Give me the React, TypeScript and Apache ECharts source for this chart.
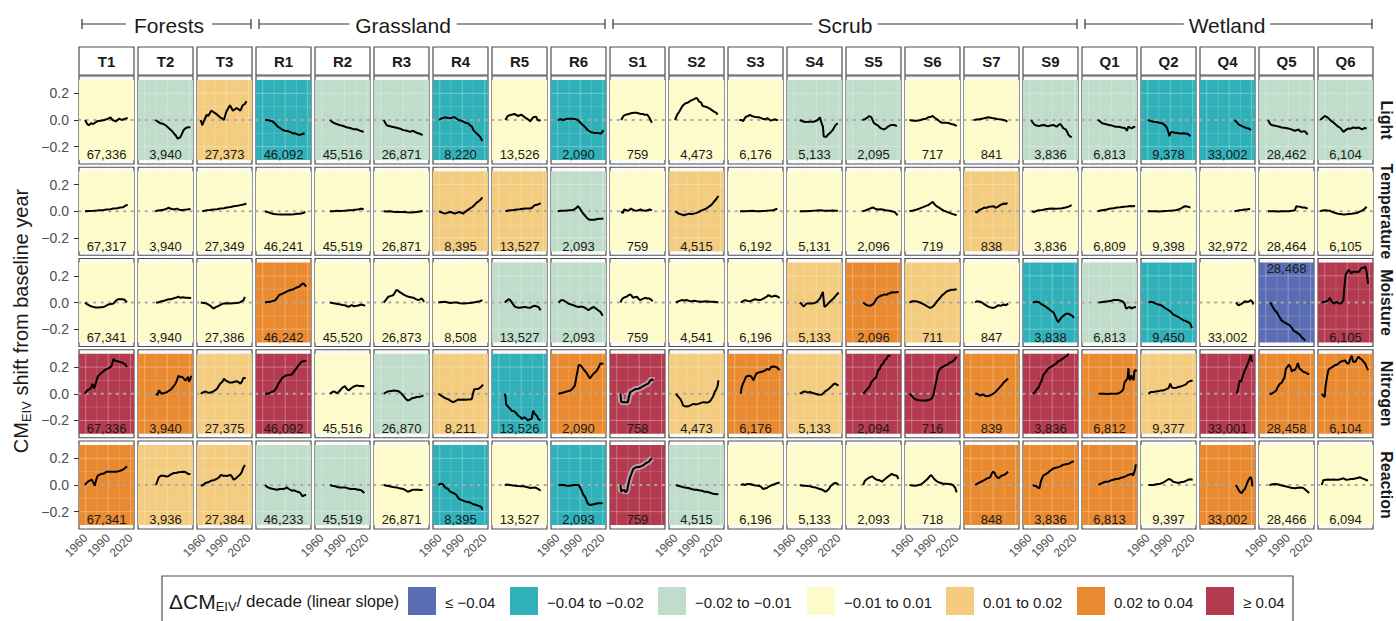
import React, { useEffect, useRef } from 'react';
import * as echarts from 'echarts';

// ---------------- DATA ----------------
const columns = ['T1','T2','T3','R1','R2','R3','R4','R5','R6','S1','S2','S3','S4','S5','S6','S7','S9','Q1','Q2','Q4','Q5','Q6'];
const groups = [
  { name: 'Forests', from: 0, to: 2, labelX: 169 },
  { name: 'Grassland', from: 3, to: 8, labelX: 403 },
  { name: 'Scrub', from: 9, to: 16, labelX: 845 },
  { name: 'Wetland', from: 17, to: 21, labelX: 1227 },
];
const rowNames = ['Light', 'Temperature', 'Moisture', 'Nitrogen', 'Reaction'];
const slopeLabels = ['≤ −0.04', '−0.04 to −0.02', '−0.02 to −0.01', '−0.01 to 0.01', '0.01 to 0.02', '0.02 to 0.04', '≥ 0.04'];
const slopeColors = ['#5a6cb3', '#30b1b9', '#bfddca', '#fdfbca', '#f3cc7f', '#e98a31', '#b43a4f'];
const xTicks = [1960, 1990, 2020];
const yTicks = [-0.2, 0, 0.2];

const lightClass = [3,2,4,1,2,2,1,3,1,3,3,3,2,2,3,3,2,2,1,1,2,2];
const temperatureClass = [3,3,3,3,3,3,4,4,2,3,4,3,3,3,3,4,3,3,3,3,3,3];
const moistureClass = [3,3,3,5,3,3,3,2,2,3,3,3,4,5,4,3,1,2,1,3,0,6];
const nitrogenClass = [6,5,4,6,3,2,4,1,5,6,4,5,4,6,6,5,6,5,4,6,5,5];
const reactionClass = [5,4,4,2,2,3,1,3,1,6,2,3,3,3,3,5,5,5,3,5,3,3];

const lightCounts = ['67,336','3,940','27,373','46,092','45,516','26,871','8,220','13,526','2,090','759','4,473','6,176','5,133','2,095','717','841','3,836','6,813','9,378','33,002','28,462','6,104'];
const temperatureCounts = ['67,317','3,940','27,349','46,241','45,519','26,871','8,395','13,527','2,093','759','4,515','6,192','5,131','2,096','719','838','3,836','6,809','9,398','32,972','28,464','6,105'];
const moistureCounts = ['67,341','3,940','27,386','46,242','45,520','26,873','8,508','13,527','2,093','759','4,541','6,196','5,133','2,096','711','847','3,838','6,813','9,450','33,002','28,468','6,105'];
const nitrogenCounts = ['67,336','3,940','27,375','46,092','45,516','26,870','8,211','13,526','2,090','758','4,473','6,176','5,133','2,094','716','839','3,836','6,812','9,377','33,001','28,458','6,104'];
const reactionCounts = ['67,341','3,936','27,384','46,233','45,519','26,871','8,395','13,527','2,093','759','4,515','6,196','5,133','2,093','718','848','3,836','6,813','9,397','33,002','28,466','6,094'];

const countsAtTop = [['Moisture', 'Q5']];
const ribbonPanels = [['Nitrogen', 'S1'], ['Reaction', 'S1']];

const light = [
  [[1959,0],[1962,-0.03],[1964,-0.04],[1967,-0.025],[1970,-0.03],[1975,-0.01],[1980,-0.005],[1985,0],[1990,0.01],[1993,0.02],[1996,0],[2000,-0.01],[2005,0.01],[2008,0],[2013,0.01],[2016,0.015]],
  [[1974,0],[1977,-0.01],[1981,-0.025],[1985,-0.03],[1988,-0.04],[1992,-0.06],[1996,-0.08],[1999,-0.1],[2002,-0.12],[2004,-0.14],[2006,-0.135],[2008,-0.125],[2010,-0.1],[2012,-0.075],[2015,-0.06],[2018,-0.055],[2021,-0.055]],
  [[1956,0],[1958,-0.04],[1960,-0.01],[1964,0.04],[1966,0.03],[1970,0.07],[1973,0.06],[1978,0.04],[1982,0.02],[1985,0.01],[1987,0],[1990,0.06],[1995,0.11],[1999,0.07],[2004,0.09],[2009,0.07],[2012,0.11],[2015,0.12],[2017,0.14]],
  [[1963,0],[1966,0],[1970,-0.005],[1973,-0.01],[1977,-0.03],[1980,-0.05],[1983,-0.06],[1987,-0.075],[1990,-0.08],[1994,-0.085],[1997,-0.09],[2000,-0.1],[2003,-0.1],[2007,-0.11],[2010,-0.11],[2013,-0.105],[2016,-0.1]],
  [[1971,0],[1973,-0.01],[1977,-0.025],[1980,-0.03],[1985,-0.04],[1989,-0.045],[1993,-0.055],[1998,-0.06],[2003,-0.07],[2007,-0.07],[2011,-0.08],[2014,-0.085],[2016,-0.09]],
  [[1964,0],[1966,-0.02],[1968,-0.04],[1971,-0.045],[1975,-0.05],[1981,-0.058],[1986,-0.065],[1990,-0.076],[1995,-0.08],[1999,-0.089],[2003,-0.081],[2006,-0.09],[2010,-0.1],[2013,-0.105],[2016,-0.114]],
  [[1959,0],[1962,0.01],[1967,0.02],[1971,0.015],[1974,0.013],[1978,0.02],[1980,0.02],[1985,0],[1989,-0.005],[1994,-0.02],[1998,-0.025],[2000,-0.038],[2003,-0.05],[2005,-0.076],[2009,-0.1],[2012,-0.115],[2014,-0.127],[2017,-0.157]],
  [[1969,0],[1972,0.03],[1977,0.04],[1981,0.045],[1986,0.03],[1990,0.04],[1995,0.02],[1999,0.005],[2002,-0.01],[2004,0.005],[2006,0.02],[2010,0.025],[2012,0],[2014,-0.005],[2016,0]],
  [[1960,0],[1964,0.005],[1967,0],[1973,0.01],[1980,0.01],[1984,0.005],[1987,0],[1991,-0.025],[1996,-0.05],[2000,-0.075],[2004,-0.09],[2009,-0.097],[2013,-0.097],[2016,-0.1],[2018,-0.102],[2021,-0.076]],
  [[1966,0],[1969,0.03],[1972,0.04],[1976,0.045],[1979,0.05],[1983,0.055],[1986,0.055],[1989,0.05],[1992,0.045],[1995,0.045],[1997,0.04],[2001,0.04],[2004,0.013],[2006,-0.01],[2007,-0.02]],
  [[1959,0],[1962,0.04],[1965,0.065],[1969,0.105],[1973,0.125],[1976,0.13],[1980,0.145],[1984,0.155],[1987,0.165],[1989,0.16],[1991,0.14],[1994,0.13],[1996,0.105],[2000,0.1],[2004,0.09],[2007,0.08],[2011,0.063],[2014,0.055],[2016,0.04]],
  [[1966,0],[1969,0],[1971,-0.008],[1975,0.025],[1978,0.03],[1980,0.038],[1983,0.03],[1986,0.025],[1990,0.02],[1993,0.02],[1997,0.01],[2000,0.005],[2004,0.013],[2008,-0.005],[2013,0.005],[2016,0],[2018,0]],
  [[1968,0],[1972,-0.01],[1975,-0.015],[1981,-0.013],[1985,-0.013],[1987,-0.013],[1992,0],[1995,0.02],[1997,-0.02],[1999,-0.05],[2000,-0.12],[2001,-0.125],[2004,-0.125],[2005,-0.115],[2008,-0.1],[2012,-0.076],[2016,-0.038],[2019,-0.025]],
  [[1973,0],[1977,0.008],[1980,0.02],[1982,0.03],[1985,0.02],[1988,-0.02],[1990,-0.03],[1993,-0.038],[1996,-0.055],[1998,-0.063],[2002,-0.071],[2005,-0.06],[2007,-0.05],[2011,-0.038],[2016,-0.038],[2019,-0.046]],
  [[1957,0],[1962,-0.005],[1967,-0.005],[1972,0],[1975,0.005],[1979,0.01],[1982,0.02],[1986,0.025],[1988,0.03],[1991,0.015],[1994,0.005],[1997,-0.01],[2000,-0.02],[2004,-0.02],[2007,-0.02],[2010,-0.025],[2013,-0.03],[2017,-0.035],[2020,-0.046]],
  [[1964,0],[1968,0.003],[1971,0.005],[1975,0.01],[1978,0.013],[1982,0.018],[1984,0.02],[1988,0.015],[1991,0.013],[1995,0.008],[1998,0.005],[2002,0.003],[2004,0],[2007,-0.005],[2009,-0.013]],
  [[1962,0],[1964,-0.02],[1967,-0.038],[1972,-0.046],[1976,-0.04],[1979,-0.038],[1983,-0.045],[1985,-0.046],[1989,-0.04],[1992,-0.038],[1996,-0.05],[1999,-0.035],[2001,-0.03],[2003,-0.045],[2005,-0.063],[2008,-0.07],[2010,-0.089],[2012,-0.114],[2016,-0.13]],
  [[1972,0],[1974,-0.005],[1978,-0.025],[1982,-0.03],[1987,-0.038],[1991,-0.042],[1996,-0.05],[2000,-0.05],[2004,-0.056],[2008,-0.06],[2010,-0.07],[2011,-0.081],[2013,-0.05],[2016,-0.06],[2018,-0.063],[2020,-0.05],[2022,-0.056]],
  [[1960,0],[1964,-0.008],[1968,-0.013],[1972,-0.015],[1975,-0.02],[1979,-0.025],[1981,-0.03],[1984,-0.045],[1986,-0.063],[1988,-0.1],[1989,-0.122],[1990,-0.1],[1992,-0.089],[1995,-0.095],[1997,-0.096],[2001,-0.1],[2004,-0.101],[2007,-0.1],[2010,-0.101],[2014,-0.105],[2017,-0.122]],
  [[1997,0],[2000,-0.015],[2002,-0.03],[2005,-0.04],[2007,-0.046],[2009,-0.05],[2011,-0.056],[2013,-0.06],[2016,-0.063],[2018,-0.07],[2019,-0.076]],
  [[1963,0],[1966,-0.03],[1968,-0.038],[1971,-0.042],[1975,-0.046],[1978,-0.05],[1981,-0.056],[1985,-0.058],[1990,-0.063],[1994,-0.07],[1999,-0.081],[2002,-0.075],[2004,-0.071],[2006,-0.085],[2008,-0.089],[2010,-0.085],[2012,-0.084],[2014,-0.095],[2016,-0.11]],
  [[1954,0],[1957,0.015],[1960,0.03],[1963,0.022],[1965,0.013],[1968,-0.005],[1972,-0.02],[1975,-0.035],[1978,-0.05],[1981,-0.06],[1985,-0.089],[1988,-0.075],[1992,-0.063],[1995,-0.065],[1998,-0.056],[2002,-0.06],[2005,-0.056],[2008,-0.065],[2010,-0.071],[2013,-0.06],[2016,-0.063]],
];

const temperature = [
  [[1959,0],[1964,0.002],[1970,0.003],[1975,0.005],[1979,0.008],[1984,0.01],[1988,0.013],[1993,0.015],[1997,0.02],[2002,0.022],[2006,0.028],[2010,0.03],[2012,0.038],[2016,0.05]],
  [[1974,0],[1978,0.005],[1981,0.008],[1985,0.012],[1988,0.015],[1992,0.028],[1995,0.018],[1999,0.013],[2003,0.02],[2006,0.012],[2010,0.008],[2013,0.012],[2016,0.013],[2019,0.015],[2021,0.02]],
  [[1958,0],[1961,0.003],[1964,0.008],[1968,0.01],[1973,0.013],[1978,0.015],[1982,0.02],[1987,0.022],[1991,0.028],[1996,0.032],[2000,0.038],[2005,0.042],[2009,0.046],[2013,0.05],[2017,0.058]],
  [[1963,0],[1966,-0.005],[1970,-0.013],[1975,-0.02],[1979,-0.023],[1984,-0.025],[1988,-0.025],[1993,-0.025],[1997,-0.025],[2002,-0.022],[2006,-0.018],[2010,-0.018],[2014,-0.013],[2017,-0.005]],
  [[1971,0],[1976,0],[1980,0.003],[1985,0.002],[1989,0.003],[1993,0.005],[1998,0.008],[2002,0.01],[2007,0.013],[2010,0.015],[2013,0.02],[2016,0.013]],
  [[1964,0],[1968,-0.002],[1972,0],[1977,-0.003],[1981,-0.005],[1986,-0.005],[1990,-0.005],[1995,-0.008],[1999,-0.01],[2004,-0.008],[2008,-0.005],[2012,-0.002],[2016,0.002]],
  [[1959,0],[1963,-0.01],[1967,-0.018],[1971,-0.01],[1974,-0.005],[1977,-0.01],[1980,-0.018],[1984,-0.01],[1987,-0.005],[1989,-0.012],[1991,-0.018],[1994,-0.005],[1996,0.003],[2000,0.02],[2003,0.03],[2005,0.038],[2009,0.063],[2012,0.075],[2014,0.084],[2017,0.104]],
  [[1969,0],[1973,0.005],[1977,0.008],[1980,0.01],[1984,0.013],[1988,0.015],[1992,0.018],[1996,0.02],[2001,0.02],[2004,0.025],[2008,0.045],[2011,0.048],[2014,0.055],[2016,0.06]],
  [[1960,0],[1964,0.003],[1967,0.003],[1972,0.005],[1976,0.008],[1980,0.01],[1982,0.013],[1985,0.025],[1987,0.038],[1989,0.025],[1991,0.008],[1993,-0.01],[1996,-0.03],[1999,-0.05],[2002,-0.063],[2006,-0.064],[2009,-0.063],[2013,-0.058],[2016,-0.056],[2019,-0.056],[2021,-0.055]],
  [[1966,0],[1968,-0.013],[1970,0.013],[1972,0.01],[1975,0.003],[1977,0.01],[1979,0.02],[1982,0.01],[1986,0.003],[1989,0.008],[1992,0.013],[1995,0.005],[1999,0.003],[2002,0.01],[2004,0.013],[2007,0.008]],
  [[1959,0],[1962,-0.01],[1964,-0.018],[1968,-0.025],[1971,-0.03],[1974,-0.025],[1978,-0.018],[1981,-0.02],[1984,-0.018],[1988,-0.012],[1991,-0.005],[1994,0.005],[1998,0.013],[2001,0.022],[2004,0.033],[2008,0.05],[2011,0.071],[2014,0.09],[2017,0.114]],
  [[1967,0],[1971,0],[1975,0],[1980,0.002],[1984,0.003],[1989,0],[1993,0],[1997,0.002],[2002,0.003],[2006,0.005],[2011,0.008],[2014,0.013],[2017,0.02]],
  [[1968,0],[1972,0],[1976,0],[1981,0.002],[1985,0.003],[1990,0.005],[1994,0.008],[1999,0.005],[2003,0.003],[2008,0.003],[2012,0.005],[2016,0.003],[2019,0.003]],
  [[1973,0],[1977,0.005],[1980,0.013],[1984,0.022],[1987,0.028],[1990,0.02],[1993,0.013],[1997,0.015],[2000,0.013],[2004,0.008],[2009,0.003],[2012,0],[2016,-0.005],[2018,-0.018],[2020,-0.03]],
  [[1957,0],[1962,0.005],[1967,0.013],[1971,0.022],[1976,0.033],[1979,0.04],[1982,0.046],[1985,0.058],[1988,0.071],[1991,0.05],[1993,0.038],[1997,0.025],[2000,0.013],[2003,0.005],[2007,-0.005],[2010,-0.01],[2013,-0.018],[2017,-0.025],[2020,-0.03]],
  [[1966,0],[1968,-0.01],[1971,0.008],[1974,0.015],[1978,0.028],[1981,0.025],[1984,0.033],[1988,0.035],[1991,0.038],[1993,0.025],[1996,0.033],[1999,0.045],[2002,0.053],[2005,0.058],[2007,0.055],[2009,0.063]],
  [[1963,0],[1966,-0.005],[1969,0.003],[1972,0.008],[1977,0.01],[1981,0.015],[1985,0.018],[1990,0.02],[1994,0.018],[1999,0.02],[2003,0.022],[2008,0.028],[2012,0.035],[2016,0.046]],
  [[1972,0],[1976,0.005],[1980,0.01],[1984,0.013],[1989,0.02],[1993,0.022],[1998,0.028],[2002,0.03],[2007,0.033],[2011,0.035],[2016,0.04],[2019,0.038],[2022,0.04]],
  [[1960,0],[1965,0],[1970,0],[1975,-0.002],[1979,0],[1984,0.002],[1988,0.003],[1993,0.005],[1997,0.008],[2001,0.013],[2004,0.02],[2007,0.03],[2010,0.038],[2013,0.035],[2017,0.028]],
  [[1997,0],[2000,0.003],[2004,0.008],[2007,0.01],[2011,0.013],[2014,0.013],[2016,0.018],[2018,0.015]],
  [[1963,0],[1967,0],[1972,0],[1977,-0.002],[1981,0],[1986,0],[1990,0],[1995,0.003],[1999,0.008],[2001,0.038],[2003,0.035],[2006,0.033],[2009,0.028],[2012,0.028],[2016,0.02]],
  [[1954,0],[1957,0.005],[1960,0.008],[1964,0.005],[1967,0.003],[1970,-0.005],[1974,-0.013],[1978,-0.018],[1983,-0.023],[1986,-0.025],[1989,-0.023],[1993,-0.02],[1996,-0.018],[2000,-0.015],[2003,-0.013],[2006,-0.005],[2009,0.003],[2012,0.012],[2016,0.033]],
];

const moisture = [
  [[1959,0],[1961,-0.01],[1964,-0.02],[1967,-0.028],[1970,-0.033],[1974,-0.038],[1977,-0.038],[1980,-0.035],[1984,-0.033],[1987,-0.025],[1990,-0.015],[1994,-0.012],[1997,-0.008],[1999,0.005],[2001,0.018],[2004,0.025],[2006,0.025],[2009,0.025],[2011,0.023],[2013,0.015],[2015,0]],
  [[1975,0],[1978,0],[1980,0.005],[1983,0.01],[1987,0.015],[1992,0.025],[1995,0.025],[1998,0.03],[2001,0.035],[2005,0.043],[2008,0.035],[2011,0.04],[2014,0.035],[2017,0.035],[2020,0.033],[2022,0.035]],
  [[1956,0],[1960,-0.003],[1964,-0.008],[1967,-0.018],[1969,-0.025],[1971,-0.035],[1973,-0.046],[1976,-0.035],[1980,-0.025],[1983,-0.015],[1986,-0.008],[1990,-0.005],[1995,-0.008],[1999,-0.005],[2004,-0.003],[2008,0],[2011,0.01],[2013,0.015],[2015,0.043]],
  [[1963,0],[1966,0.003],[1970,0.005],[1974,0.012],[1977,0.018],[1980,0.04],[1982,0.056],[1986,0.065],[1990,0.076],[1993,0.085],[1997,0.094],[2001,0.1],[2005,0.111],[2009,0.12],[2012,0.137],[2014,0.144],[2016,0.135],[2018,0.119]],
  [[1971,0],[1974,-0.003],[1978,-0.008],[1981,-0.012],[1985,-0.015],[1988,-0.018],[1991,-0.02],[1994,-0.028],[1996,-0.033],[1998,-0.025],[2000,-0.02],[2003,-0.028],[2007,-0.025],[2010,-0.02],[2013,-0.015],[2016,-0.02],[2018,-0.025]],
  [[1964,0],[1967,0.02],[1970,0.043],[1974,0.05],[1977,0.056],[1979,0.075],[1981,0.094],[1984,0.085],[1986,0.076],[1988,0.07],[1990,0.061],[1994,0.05],[1997,0.043],[2000,0.04],[2004,0.035],[2007,0.025],[2010,0.018],[2013,0.025],[2015,0.03],[2018,0.005]],
  [[1958,0],[1962,0.003],[1967,0.005],[1971,0],[1974,-0.003],[1979,0],[1983,0],[1987,-0.005],[1992,-0.008],[1996,-0.005],[2000,-0.003],[2005,0],[2010,0.005],[2014,0.01],[2017,0.018]],
  [[1968,0],[1971,0.015],[1973,0.025],[1975,0.02],[1977,0.005],[1980,-0.02],[1982,-0.033],[1985,-0.038],[1988,-0.04],[1992,-0.035],[1995,-0.033],[1998,-0.038],[2002,-0.04],[2005,-0.03],[2008,-0.025],[2011,-0.03],[2013,-0.033],[2016,-0.058]],
  [[1961,0],[1964,0.015],[1967,0.018],[1971,0.005],[1974,-0.008],[1978,-0.015],[1981,-0.02],[1984,-0.028],[1988,-0.033],[1991,-0.03],[1994,-0.033],[1998,-0.045],[2001,-0.058],[2004,-0.045],[2008,-0.033],[2011,-0.045],[2014,-0.058],[2017,-0.07],[2020,-0.1]],
  [[1965,0],[1967,0.025],[1969,0.035],[1971,0.04],[1973,0.043],[1976,0.055],[1978,0.061],[1980,0.05],[1982,0.035],[1984,0.04],[1987,0.043],[1989,0.03],[1991,0.018],[1994,0.025],[1998,0.035],[2001,0.03],[2004,0.03],[2006,0.02],[2008,0.01]],
  [[1960,0],[1964,0.01],[1968,0.018],[1971,0.015],[1975,0.018],[1978,0.012],[1981,0.01],[1985,0.013],[1988,0.01],[1991,0.008],[1995,0.005],[1998,0.008],[2001,0.01],[2005,0.005],[2010,0.005],[2014,0.003],[2017,0]],
  [[1968,0],[1971,0.01],[1974,0.018],[1977,0.012],[1981,0.01],[1984,0.018],[1987,0.025],[1990,0.02],[1994,0.018],[1997,0.025],[2000,0.035],[2003,0.045],[2005,0.056],[2007,0.05],[2009,0.043],[2012,0.048],[2014,0.05],[2017,0.045],[2020,0.035]],
  [[1968,0],[1971,-0.015],[1973,-0.03],[1975,-0.02],[1977,-0.008],[1981,-0.008],[1984,-0.008],[1988,-0.003],[1991,0.005],[1993,0.018],[1995,0.03],[1997,0.055],[1999,0.08],[2000,0.02],[2001,-0.033],[2004,-0.02],[2006,-0.008],[2009,0.01],[2013,0.03],[2016,0.05],[2020,0.075]],
  [[1974,0],[1976,-0.01],[1979,-0.02],[1983,-0.025],[1985,-0.02],[1988,-0.008],[1990,0.01],[1992,0.03],[1994,0.04],[1997,0.05],[2000,0.055],[2003,0.061],[2005,0.058],[2008,0.068],[2010,0.07],[2012,0.076],[2015,0.075],[2019,0.076],[2021,0.081]],
  [[1957,0],[1961,0.01],[1965,0.01],[1968,0.005],[1971,0],[1975,-0.01],[1978,-0.02],[1981,-0.03],[1984,-0.04],[1987,-0.035],[1990,-0.02],[1994,0.01],[1997,0.03],[2000,0.05],[2004,0.07],[2007,0.085],[2010,0.09],[2013,0.095],[2016,0.095],[2020,0.1]],
  [[1966,0],[1968,0.01],[1970,0.008],[1973,0.005],[1975,0],[1977,-0.008],[1980,-0.02],[1984,-0.033],[1987,-0.038],[1990,-0.041],[1993,-0.035],[1997,-0.02],[2000,-0.025],[2004,-0.015],[2007,-0.02],[2010,-0.008]],
  [[1964,0],[1968,0.005],[1972,0.003],[1975,-0.01],[1978,-0.02],[1981,-0.03],[1985,-0.046],[1988,-0.06],[1992,-0.076],[1994,-0.1],[1996,-0.127],[1998,-0.147],[2000,-0.13],[2003,-0.109],[2006,-0.095],[2009,-0.084],[2012,-0.085],[2014,-0.091],[2017,-0.1],[2019,-0.116]],
  [[1973,0],[1976,0.002],[1980,0.005],[1983,0.008],[1986,0.01],[1990,0.013],[1993,0.018],[1997,0.018],[2000,0.018],[2003,0.013],[2006,0.005],[2008,-0.01],[2010,-0.046],[2012,-0.04],[2015,-0.033],[2017,-0.045],[2019,-0.04],[2021,-0.035],[2023,-0.033]],
  [[1961,0],[1964,0.005],[1968,0],[1971,-0.008],[1974,-0.015],[1978,-0.02],[1981,-0.033],[1984,-0.045],[1988,-0.058],[1991,-0.07],[1994,-0.091],[1998,-0.1],[2001,-0.109],[2004,-0.12],[2008,-0.134],[2011,-0.14],[2014,-0.147],[2017,-0.16],[2019,-0.192]],
  [[1999,0],[2002,-0.02],[2005,-0.015],[2007,-0.008],[2009,0],[2011,0.01],[2013,0.005],[2016,0.005],[2019,0.018],[2021,0.005],[2022,-0.015]],
  [[1966,0],[1969,-0.03],[1972,-0.058],[1975,-0.075],[1977,-0.096],[1979,-0.115],[1981,-0.134],[1984,-0.145],[1988,-0.159],[1992,-0.172],[1995,-0.19],[1997,-0.21],[2000,-0.22],[2004,-0.235],[2006,-0.245],[2008,-0.261],[2010,-0.27],[2013,-0.286]],
  [[1956,0],[1960,0.005],[1963,0.01],[1965,0.02],[1967,0.035],[1969,0.01],[1972,-0.008],[1974,0],[1976,0.005],[1978,-0.005],[1981,-0.008],[1983,0],[1985,0.018],[1986,0.1],[1988,0.21],[1992,0.245],[1994,0.23],[1996,0.22],[1998,0.23],[2001,0.23],[2005,0.228],[2007,0.24],[2009,0.258],[2012,0.26],[2014,0.27],[2016,0.23],[2018,0.14]],
];

const nitrogen = [
  [[1959,0],[1960,0.01],[1962,0.025],[1964,0.03],[1966,0.038],[1968,0.055],[1969,0.075],[1971,0.04],[1972,0.05],[1974,0.09],[1976,0.13],[1978,0.14],[1980,0.152],[1983,0.165],[1986,0.18],[1988,0.185],[1990,0.19],[1993,0.2],[1995,0.215],[1997,0.26],[1999,0.25],[2001,0.245],[2005,0.24],[2008,0.235],[2011,0.225],[2013,0.22],[2015,0.2]],
  [[1975,0],[1977,-0.01],[1979,0.025],[1981,0.01],[1983,0],[1986,0.005],[1990,0.013],[1993,0.025],[1996,0.038],[1999,0.06],[2001,0.075],[2003,0.1],[2005,0.135],[2008,0.125],[2010,0.127],[2012,0.115],[2014,0.1],[2016,0.11],[2018,0.127],[2019,0.09],[2021,0.11],[2022,0.135]],
  [[1956,0],[1959,0.01],[1962,0.018],[1965,0.01],[1968,0.008],[1972,0.015],[1975,0.025],[1978,0.04],[1982,0.076],[1985,0.09],[1987,0.114],[1989,0.1],[1991,0.094],[1994,0.085],[1998,0.084],[2001,0.09],[2004,0.094],[2007,0.085],[2009,0.076],[2011,0.09],[2013,0.119],[2016,0.119]],
  [[1963,0],[1966,0],[1970,0.008],[1973,0.015],[1976,0.025],[1979,0.05],[1981,0.076],[1984,0.1],[1986,0.119],[1989,0.13],[1992,0.139],[1995,0.14],[1999,0.144],[2001,0.16],[2003,0.177],[2006,0.2],[2008,0.215],[2010,0.228],[2012,0.241],[2015,0.245],[2018,0.246]],
  [[1971,0],[1973,0.008],[1976,0.018],[1978,0.013],[1980,0.005],[1983,0.015],[1987,0.043],[1989,0.05],[1991,0.058],[1993,0.04],[1996,0.025],[1998,0.035],[2000,0.043],[2003,0.055],[2005,0.058],[2007,0.063],[2010,0.058],[2014,0.058],[2017,0.055]],
  [[1964,0],[1967,0.01],[1970,0.018],[1974,0.02],[1977,0.025],[1980,0.022],[1984,0.018],[1987,0.005],[1990,-0.013],[1993,-0.035],[1996,-0.05],[1999,-0.045],[2002,-0.033],[2005,-0.03],[2008,-0.025],[2012,-0.022],[2015,-0.018],[2017,-0.013]],
  [[1958,0],[1961,-0.01],[1965,-0.025],[1968,-0.035],[1972,-0.043],[1975,-0.055],[1978,-0.063],[1981,-0.055],[1985,-0.043],[1988,-0.045],[1992,-0.043],[1995,-0.045],[1998,-0.043],[2001,-0.043],[2003,-0.038],[2004,-0.01],[2006,0.033],[2009,0.035],[2012,0.038],[2015,0.05],[2018,0.068]],
  [[1968,0],[1969,-0.02],[1970,-0.081],[1973,-0.101],[1975,-0.11],[1977,-0.127],[1980,-0.13],[1982,-0.139],[1984,-0.15],[1986,-0.165],[1989,-0.175],[1991,-0.19],[1993,-0.18],[1995,-0.177],[1997,-0.19],[1999,-0.2],[2002,-0.19],[2004,-0.19],[2006,-0.127],[2008,-0.15],[2011,-0.165],[2013,-0.19],[2016,-0.2]],
  [[1961,0],[1965,0.005],[1970,0.013],[1974,0.02],[1977,0.025],[1980,0.04],[1983,0.063],[1985,0.13],[1988,0.215],[1990,0.215],[1992,0.203],[1995,0.18],[1999,0.152],[2003,0.114],[2005,0.13],[2008,0.152],[2011,0.165],[2014,0.19],[2017,0.228],[2019,0.225],[2021,0.228]],
  [[1965,0],[1966,-0.06],[1968,-0.063],[1971,-0.063],[1975,-0.063],[1976,-0.03],[1978,0.013],[1982,0.025],[1985,0.035],[1989,0.038],[1992,0.045],[1995,0.056],[1999,0.068],[2002,0.076],[2005,0.1],[2007,0.109],[2009,0.1]],
  [[1960,0],[1963,-0.02],[1966,-0.038],[1968,-0.06],[1970,-0.089],[1973,-0.095],[1977,-0.094],[1980,-0.085],[1984,-0.076],[1987,-0.08],[1990,-0.076],[1993,-0.07],[1997,-0.063],[2000,-0.065],[2004,-0.063],[2006,-0.055],[2008,-0.038],[2010,-0.02],[2012,0.013],[2014,0.03],[2016,0.06],[2017,0.101]],
  [[1968,0],[1969,0.04],[1971,0.076],[1973,0.1],[1975,0.127],[1978,0.135],[1981,0.134],[1983,0.12],[1985,0.101],[1987,0.13],[1989,0.152],[1992,0.16],[1996,0.165],[1999,0.17],[2003,0.185],[2006,0.18],[2009,0.203],[2012,0.205],[2014,0.203],[2017,0.195],[2020,0.177]],
  [[1968,0],[1972,0.013],[1975,0.018],[1978,0.01],[1982,0.013],[1985,0.005],[1989,0],[1992,-0.005],[1995,-0.008],[1998,-0.005],[2002,0.018],[2004,0.025],[2007,0.038],[2011,0.058],[2014,0.075],[2016,0.076],[2018,0.065],[2020,0.063]],
  [[1974,0],[1977,0.02],[1981,0.043],[1983,0.06],[1985,0.089],[1987,0.1],[1989,0.114],[1991,0.12],[1994,0.177],[1996,0.185],[1998,0.215],[2000,0.22],[2003,0.253],[2005,0.26],[2007,0.284],[2009,0.285],[2010,0.29]],
  [[1957,0],[1960,-0.015],[1963,-0.035],[1966,-0.045],[1970,-0.048],[1975,-0.05],[1980,-0.05],[1984,-0.045],[1987,-0.035],[1989,-0.01],[1991,0.05],[1993,0.1],[1995,0.16],[1998,0.19],[2001,0.2],[2004,0.21],[2008,0.22],[2011,0.235],[2014,0.24],[2016,0.25],[2018,0.26],[2020,0.28]],
  [[1966,0],[1968,0],[1970,-0.005],[1972,-0.013],[1975,-0.008],[1977,-0.005],[1979,-0.015],[1981,-0.018],[1984,-0.015],[1986,-0.013],[1990,0],[1993,0.013],[1995,0.025],[1999,0.05],[2002,0.068],[2004,0.084],[2007,0.1],[2010,0.114]],
  [[1964,0],[1967,0.013],[1969,0.03],[1972,0.05],[1974,0.076],[1976,0.1],[1978,0.139],[1981,0.16],[1985,0.19],[1988,0.2],[1992,0.215],[1995,0.225],[1998,0.245],[2001,0.25],[2003,0.261],[2005,0.265],[2007,0.278],[2009,0.28],[2012,0.3]],
  [[1973,0],[1977,0],[1980,0],[1984,-0.002],[1989,0],[1993,0],[1997,0],[2001,0.005],[2004,0.018],[2006,0.03],[2008,0.089],[2010,0.1],[2012,0.12],[2013,0.19],[2014,0.12],[2015,0.101],[2017,0.139],[2018,0.12],[2020,0.101],[2021,0.17],[2022,0.177],[2024,0.17]],
  [[1961,0],[1964,0.013],[1968,0.013],[1971,0.018],[1974,0.018],[1978,0.025],[1981,0.025],[1985,0.035],[1988,0.043],[1990,0.076],[1992,0.05],[1994,0.043],[1998,0.045],[2001,0.05],[2004,0.055],[2008,0.063],[2011,0.07],[2014,0.089],[2017,0.095],[2020,0.1]],
  [[2000,0],[2002,0.04],[2004,0.1],[2006,0.09],[2008,0.13],[2011,0.177],[2013,0.2],[2015,0.228],[2017,0.26],[2019,0.29],[2020,0.25],[2021,0.24]],
  [[1965,0],[1968,0],[1970,0.008],[1972,0.015],[1974,0.025],[1976,0.05],[1979,0.076],[1981,0.08],[1983,0.101],[1985,0.12],[1987,0.19],[1989,0.2],[1991,0.22],[1993,0.2],[1995,0.165],[1997,0.18],[1999,0.177],[2001,0.2],[2003,0.23],[2005,0.19],[2008,0.177],[2010,0.165],[2013,0.16],[2016,0.15],[2018,0.145]],
  [[1956,0],[1958,-0.015],[1960,-0.025],[1961,0.05],[1963,0.125],[1965,0.18],[1967,0.19],[1970,0.2],[1974,0.215],[1977,0.22],[1981,0.24],[1984,0.245],[1987,0.25],[1990,0.228],[1992,0.225],[1994,0.26],[1996,0.285],[1998,0.24],[2001,0.24],[2003,0.26],[2005,0.278],[2007,0.265],[2009,0.26],[2012,0.24],[2014,0.228],[2016,0.2],[2018,0.177]],
];

const reaction = [
  [[1959,0],[1961,0.015],[1963,0.025],[1966,0.035],[1968,0.04],[1970,0.02],[1972,-0.005],[1974,0.04],[1976,0.07],[1978,0.075],[1981,0.085],[1984,0.085],[1988,0.1],[1991,0.1],[1995,0.1],[1998,0.1],[2001,0.1],[2005,0.105],[2008,0.11],[2011,0.12],[2013,0.13],[2015,0.14]],
  [[1975,0],[1977,0.03],[1979,0.06],[1982,0.07],[1985,0.07],[1988,0.065],[1990,0.063],[1992,0.068],[1995,0.08],[1999,0.09],[2002,0.09],[2005,0.095],[2008,0.097],[2012,0.1],[2015,0.095],[2018,0.083],[2021,0.083]],
  [[1956,0],[1958,-0.005],[1962,0.015],[1966,0.02],[1969,0.03],[1973,0.035],[1977,0.045],[1980,0.055],[1983,0.075],[1986,0.07],[1989,0.07],[1992,0.068],[1995,0.075],[1997,0.07],[2000,0.04],[2003,0.05],[2006,0.065],[2009,0.08],[2011,0.1],[2013,0.13],[2015,0.15]],
  [[1963,0],[1966,-0.015],[1970,-0.025],[1974,-0.03],[1979,-0.035],[1983,-0.03],[1988,-0.03],[1990,-0.025],[1992,-0.018],[1995,-0.03],[1999,-0.043],[2002,-0.04],[2006,-0.05],[2009,-0.055],[2011,-0.065],[2013,-0.085],[2016,-0.076],[2018,-0.075]],
  [[1971,0],[1974,-0.005],[1978,-0.01],[1981,-0.015],[1984,-0.018],[1988,-0.018],[1991,-0.018],[1995,-0.025],[1998,-0.03],[2001,-0.03],[2005,-0.03],[2008,-0.035],[2010,-0.035],[2013,-0.04],[2015,-0.05],[2017,-0.06]],
  [[1964,0],[1968,-0.005],[1972,-0.01],[1976,-0.015],[1981,-0.018],[1985,-0.025],[1990,-0.03],[1993,-0.038],[1996,-0.051],[1999,-0.045],[2003,-0.035],[2006,-0.035],[2010,-0.035],[2013,-0.038],[2016,-0.038]],
  [[1958,0],[1961,0.01],[1964,0.008],[1967,-0.018],[1971,-0.03],[1974,-0.05],[1978,-0.06],[1981,-0.068],[1983,-0.08],[1985,-0.1],[1988,-0.11],[1992,-0.119],[1995,-0.125],[1998,-0.127],[2002,-0.135],[2005,-0.145],[2009,-0.15],[2012,-0.157],[2014,-0.16],[2016,-0.17],[2017,-0.187]],
  [[1968,0],[1971,0.003],[1975,0],[1979,-0.003],[1982,-0.005],[1986,-0.008],[1989,-0.01],[1993,-0.01],[1996,-0.013],[2000,-0.018],[2002,-0.023],[2005,-0.02],[2009,-0.018],[2011,-0.025],[2013,-0.03],[2016,-0.043]],
  [[1961,0],[1964,0],[1968,0],[1971,-0.003],[1974,-0.005],[1978,-0.003],[1981,0],[1984,0],[1988,0],[1990,-0.02],[1992,-0.043],[1994,-0.07],[1997,-0.095],[1999,-0.125],[2001,-0.145],[2004,-0.15],[2008,-0.145],[2011,-0.14],[2014,-0.137],[2017,-0.137],[2020,-0.137]],
  [[1965,0],[1966,-0.05],[1968,-0.04],[1970,-0.038],[1972,-0.055],[1974,-0.04],[1975,-0.005],[1977,0.04],[1978,0.06],[1980,0.09],[1982,0.12],[1985,0.13],[1987,0.135],[1990,0.135],[1993,0.142],[1996,0.15],[1998,0.16],[2001,0.17],[2003,0.175],[2005,0.19],[2007,0.2]],
  [[1960,0],[1963,-0.005],[1966,-0.01],[1969,-0.015],[1972,-0.018],[1975,-0.02],[1978,-0.025],[1981,-0.03],[1985,-0.035],[1988,-0.035],[1991,-0.04],[1995,-0.043],[1998,-0.05],[2001,-0.05],[2004,-0.055],[2007,-0.06],[2010,-0.065],[2013,-0.068],[2015,-0.07],[2017,-0.068]],
  [[1968,0],[1971,0.005],[1974,0],[1977,0.008],[1979,0.008],[1982,0.005],[1985,0],[1988,-0.003],[1992,-0.005],[1995,-0.013],[1998,-0.03],[2001,-0.025],[2003,-0.023],[2006,-0.01],[2010,0],[2013,0.005],[2016,0.013],[2018,0.015],[2020,0.02]],
  [[1968,0],[1972,-0.005],[1975,-0.005],[1979,-0.008],[1982,-0.01],[1985,-0.015],[1989,-0.018],[1992,-0.025],[1995,-0.03],[1999,-0.038],[2002,-0.05],[2004,-0.045],[2007,-0.03],[2009,-0.01],[2011,0],[2014,0.013],[2016,0.015],[2018,0.01],[2020,0]],
  [[1974,0],[1976,0.03],[1979,0.045],[1982,0.055],[1986,0.065],[1989,0.05],[1992,0.04],[1996,0.035],[1999,0.025],[2002,0.04],[2006,0.058],[2009,0.07],[2012,0.084],[2015,0.075],[2019,0.07],[2021,0.045]],
  [[1957,0],[1961,-0.003],[1965,-0.005],[1969,0],[1972,0.003],[1975,0.015],[1978,0.03],[1981,0.045],[1984,0.065],[1986,0.075],[1988,0.06],[1990,0.045],[1993,0.03],[1996,0.02],[1999,0.015],[2002,0.01],[2006,0.01],[2009,0.008],[2013,0.005],[2015,0],[2018,-0.02],[2020,-0.055]],
  [[1966,0],[1969,0.01],[1972,0.02],[1976,0.03],[1979,0.04],[1982,0.05],[1986,0.058],[1988,0.085],[1990,0.1],[1992,0.09],[1994,0.065],[1997,0.05],[1999,0.06],[2001,0.07],[2004,0.075],[2006,0.08],[2008,0.09],[2010,0.1]],
  [[1964,0],[1966,-0.005],[1969,-0.01],[1971,-0.02],[1973,-0.025],[1975,0.03],[1978,0.07],[1981,0.08],[1985,0.095],[1988,0.11],[1992,0.125],[1995,0.13],[1998,0.134],[2001,0.14],[2005,0.152],[2008,0.155],[2012,0.16],[2014,0.165],[2016,0.172],[2019,0.177]],
  [[1973,0],[1976,0.01],[1980,0.02],[1983,0.025],[1986,0.025],[1990,0.035],[1993,0.04],[1996,0.045],[2000,0.046],[2003,0.055],[2006,0.058],[2009,0.065],[2013,0.076],[2016,0.08],[2018,0.085],[2019,0.07],[2021,0.1],[2022,0.12],[2023,0.155]],
  [[1961,0],[1964,0],[1968,0],[1971,0.005],[1974,0.008],[1977,0.01],[1981,0.02],[1984,0.03],[1988,0.045],[1991,0.04],[1994,0.025],[1997,0.02],[2001,0.015],[2004,0.02],[2008,0.025],[2011,0.03],[2014,0.04],[2017,0.043],[2020,0.04]],
  [[1999,0],[2001,-0.02],[2003,-0.04],[2005,-0.055],[2007,-0.06],[2009,-0.04],[2011,-0.03],[2013,0],[2016,0.04],[2018,0.055],[2019,0.06],[2020,0.04],[2021,-0.01]],
  [[1965,0],[1969,0.005],[1972,0.008],[1976,0.005],[1979,0],[1983,-0.005],[1986,-0.01],[1989,-0.013],[1992,-0.018],[1996,-0.022],[1999,-0.025],[2003,-0.02],[2006,-0.018],[2009,-0.02],[2012,-0.03],[2015,-0.045],[2018,-0.06]],
  [[1956,0],[1958,0.035],[1962,0.04],[1965,0.042],[1968,0.04],[1972,0.042],[1975,0.04],[1978,0.04],[1982,0.045],[1985,0.05],[1988,0.04],[1992,0.042],[1995,0.045],[1998,0.045],[2002,0.05],[2005,0.055],[2007,0.058],[2010,0.05],[2014,0.042],[2016,0.035],[2018,0.035]],
];

// ---------------- LAYOUT ----------------
const FONT = '"Liberation Sans", Arial, Helvetica, sans-serif';
const L = {
  panelLeft: 79, colStep: 59, panelW: 55,
  panelTop: 76, rowStep: 91.25, panelH: 88,
  stripTop: 47, stripH: 28,
  xMin: 1951, xMax: 2024.5, yMin: -0.33, yMax: 0.33,
  bandLo: -0.3, bandHi: 0.3, countY: -0.262, countYTop: 0.255,
  headerY: 24, rowLabelX: 1386, yTitleX: 21, yTitleY: 321,
  legend: { x: 162, y: 576, w: 1131, h: 60, titleX: 169, midY: 601, swatch: 28,
    items: [408, 510, 658, 807, 946, 1077, 1206], labelGap: 37 },
};

const rowsData = [light, temperature, moisture, nitrogen, reaction];
const rowsClass = [lightClass, temperatureClass, moistureClass, nitrogenClass, reactionClass];
const rowsCounts = [lightCounts, temperatureCounts, moistureCounts, nitrogenCounts, reactionCounts];

const fmtY = (v: number) => {
  const s = Math.abs(v).toFixed(1);
  return v < -1e-9 ? '−' + s : s;
};
const fmtX = (v: number) => String(Math.round(v));

function buildOption() {
  const grid: any[] = [];
  const xAxis: any[] = [];
  const yAxis: any[] = [];
  const series: any[] = [];
  const graphic: any[] = [];
  const nC = columns.length;

  rowNames.forEach((rn, r) => {
    columns.forEach((cn, c) => {
      const i = r * nC + c;
      const left = L.panelLeft + c * L.colStep;
      const top = L.panelTop + r * L.rowStep;
      grid.push({ left, top, width: L.panelW, height: L.panelH, show: true, borderColor: '#4d4d4d', borderWidth: 1.2, backgroundColor: '#fafafa', containLabel: false });
      xAxis.push({
        gridIndex: i, type: 'value', min: L.xMin, max: L.xMax, show: r === rowNames.length - 1,
        axisLine: { show: false },
        axisTick: { show: true, length: 5, customValues: xTicks, lineStyle: { color: '#333', width: 1 } },
        axisLabel: { show: c % 2 === 0, customValues: xTicks, formatter: fmtX, rotate: 45, fontSize: 12, color: '#4d4d4d', margin: 7, fontFamily: FONT },
        splitLine: { show: false },
      });
      yAxis.push({
        gridIndex: i, type: 'value', min: L.yMin, max: L.yMax, show: c === 0,
        axisLine: { show: false },
        axisTick: { show: true, length: 5, customValues: yTicks, lineStyle: { color: '#333', width: 1 } },
        axisLabel: { customValues: yTicks, formatter: fmtY, fontSize: 14, color: '#4d4d4d', margin: 10, fontFamily: FONT },
        splitLine: { show: false },
      });
      const fill = slopeColors[rowsClass[r][c]];
      const count = rowsCounts[r][c];
      const atTop = countsAtTop.some(([a, b]) => a === rn && b === cn);
      series.push({
        type: 'custom', xAxisIndex: i, yAxisIndex: i, z: 1, silent: true,
        data: [[1990, 0]],
        renderItem: (params: any, api: any) => {
          const cs = params.coordSys;
          const yHi = api.coord([1990, L.bandHi])[1];
          const yLo = api.coord([1990, L.bandLo])[1];
          const y0 = api.coord([1990, 0])[1];
          const children: any[] = [
            { type: 'rect', shape: { x: cs.x, y: yHi, width: cs.width, height: yLo - yHi }, style: { fill } },
          ];
          [1960, 1975, 1990, 2005, 2020].forEach((gx, k) => {
            const px = api.coord([gx, 0])[0];
            children.push({ type: 'line', shape: { x1: px, y1: cs.y, x2: px, y2: cs.y + cs.height }, style: { stroke: 'rgba(255,255,255,0.3)', lineWidth: k % 2 === 0 ? 1 : 0.5 } });
          });
          [-0.2, -0.1, 0.1, 0.2].forEach((gy, k) => {
            const py = api.coord([1990, gy])[1];
            children.push({ type: 'line', shape: { x1: cs.x, y1: py, x2: cs.x + cs.width, y2: py }, style: { stroke: 'rgba(255,255,255,0.3)', lineWidth: k === 0 || k === 3 ? 1 : 0.5 } });
          });
          children.push({ type: 'line', shape: { x1: cs.x, y1: y0, x2: cs.x + cs.width, y2: y0 }, style: { stroke: '#a9a9a9', lineWidth: 1.8, lineDash: [1.5, 6], lineCap: 'round' } });
          const ty = api.coord([1990, atTop ? L.countYTop : L.countY])[1];
          children.push({ type: 'text', x: cs.x + cs.width / 2, y: ty, style: { text: count, fill: '#1a1a1a', fontSize: 13, fontFamily: FONT, align: 'center', verticalAlign: 'middle' } });
          return { type: 'group', children };
        },
      });
      if (ribbonPanels.some(([a, b]) => a === rn && b === cn)) {
        series.push({ type: 'line', xAxisIndex: i, yAxisIndex: i, data: rowsData[r][c], showSymbol: false, symbol: 'none', silent: true, z: 2, lineStyle: { color: 'rgba(200,190,195,0.7)', width: 6 } });
      }
      series.push({ type: 'line', xAxisIndex: i, yAxisIndex: i, data: rowsData[r][c], showSymbol: false, symbol: 'none', silent: true, z: 3, lineStyle: { color: '#000', width: 2 } });
    });
  });

  // column strips
  columns.forEach((cn, c) => {
    const x = L.panelLeft + c * L.colStep;
    graphic.push({ type: 'rect', shape: { x, y: L.stripTop, width: L.panelW, height: L.stripH }, style: { fill: '#fff', stroke: '#4d4d4d', lineWidth: 1.2 } });
    graphic.push({ type: 'text', x: x + L.panelW / 2, y: L.stripTop + L.stripH / 2 + 0.5, style: { text: cn, fontSize: 15, fontWeight: 'bold', fill: '#1a1a1a', fontFamily: FONT, align: 'center', verticalAlign: 'middle' } });
  });
  // row labels
  rowNames.forEach((rn, r) => {
    graphic.push({ type: 'text', x: L.rowLabelX, y: L.panelTop + r * L.rowStep + L.panelH / 2, rotation: -Math.PI / 2, style: { text: rn, fontSize: 16, fontWeight: 'bold', fill: '#1a1a1a', fontFamily: FONT, align: 'center', verticalAlign: 'middle' } });
  });
  // group headers
  groups.forEach((g) => {
    const x1 = L.panelLeft + g.from * L.colStep + 3;
    const x2 = L.panelLeft + g.to * L.colStep + L.panelW - 1;
    const hw = g.name.length * 5.3 + 6;
    const hy = L.headerY;
    const st = { stroke: '#333', lineWidth: 1.2 };
    graphic.push({ type: 'line', shape: { x1, y1: hy, x2: g.labelX - hw, y2: hy }, style: st });
    graphic.push({ type: 'line', shape: { x1: g.labelX + hw, y1: hy, x2, y2: hy }, style: st });
    graphic.push({ type: 'line', shape: { x1, y1: hy - 5, x2: x1, y2: hy + 5 }, style: st });
    graphic.push({ type: 'line', shape: { x1: x2, y1: hy - 5, x2, y2: hy + 5 }, style: st });
    graphic.push({ type: 'text', x: g.labelX, y: hy + 1, style: { text: g.name, fontSize: 21, fill: '#1a1a1a', fontFamily: FONT, align: 'center', verticalAlign: 'middle' } });
  });
  // y-axis title
  graphic.push({
    type: 'text', x: L.yTitleX, y: L.yTitleY, rotation: Math.PI / 2,
    style: {
      text: '{a|CM}{s|EIV}{a| shift from baseline year}', align: 'center', verticalAlign: 'middle', fontFamily: FONT,
      rich: { a: { fontSize: 20, fill: '#1a1a1a', fontFamily: FONT }, s: { fontSize: 13, fill: '#1a1a1a', fontFamily: FONT, padding: [10, 0, 0, 0] } },
    },
  });
  // legend
  const lg = L.legend;
  graphic.push({ type: 'rect', shape: { x: lg.x, y: lg.y, width: lg.w, height: lg.h }, style: { fill: '#fff', stroke: '#4d4d4d', lineWidth: 1.2 } });
  graphic.push({
    type: 'text', x: lg.titleX, y: lg.midY,
    style: {
      text: '{d|ΔCM}{s|EIV}{b|/ decade }{c|(linear slope)}', align: 'left', verticalAlign: 'middle', fontFamily: FONT,
      rich: {
        d: { fontSize: 21, fill: '#1a1a1a', fontFamily: FONT },
        s: { fontSize: 13, fill: '#1a1a1a', fontFamily: FONT, padding: [10, 0, 0, 0] },
        b: { fontSize: 17, fill: '#1a1a1a', fontFamily: FONT },
        c: { fontSize: 16, fill: '#1a1a1a', fontFamily: FONT },
      },
    },
  });
  slopeLabels.forEach((lab, k) => {
    const sx = lg.items[k];
    graphic.push({ type: 'rect', shape: { x: sx, y: lg.midY - lg.swatch / 2, width: lg.swatch, height: lg.swatch }, style: { fill: slopeColors[k] } });
    graphic.push({ type: 'text', x: sx + lg.labelGap, y: lg.midY + 1, style: { text: lab, fontSize: 15, fill: '#1a1a1a', fontFamily: FONT, align: 'left', verticalAlign: 'middle' } });
  });

  return {
    animation: false,
    backgroundColor: '#ffffff',
    textStyle: { fontFamily: FONT },
    grid, xAxis, yAxis, series, graphic,
  };
}

export default function App() {
  const ref = useRef<HTMLDivElement | null>(null);
  useEffect(() => {
    if (!ref.current) return;
    const chart = echarts.init(ref.current, undefined, { renderer: 'svg' });
    chart.setOption(buildOption() as any);
    return () => chart.dispose();
  }, []);
  return <div ref={ref} style={{ position: 'absolute', left: 0, top: 0, width: 1396, height: 621 }} />;
}
